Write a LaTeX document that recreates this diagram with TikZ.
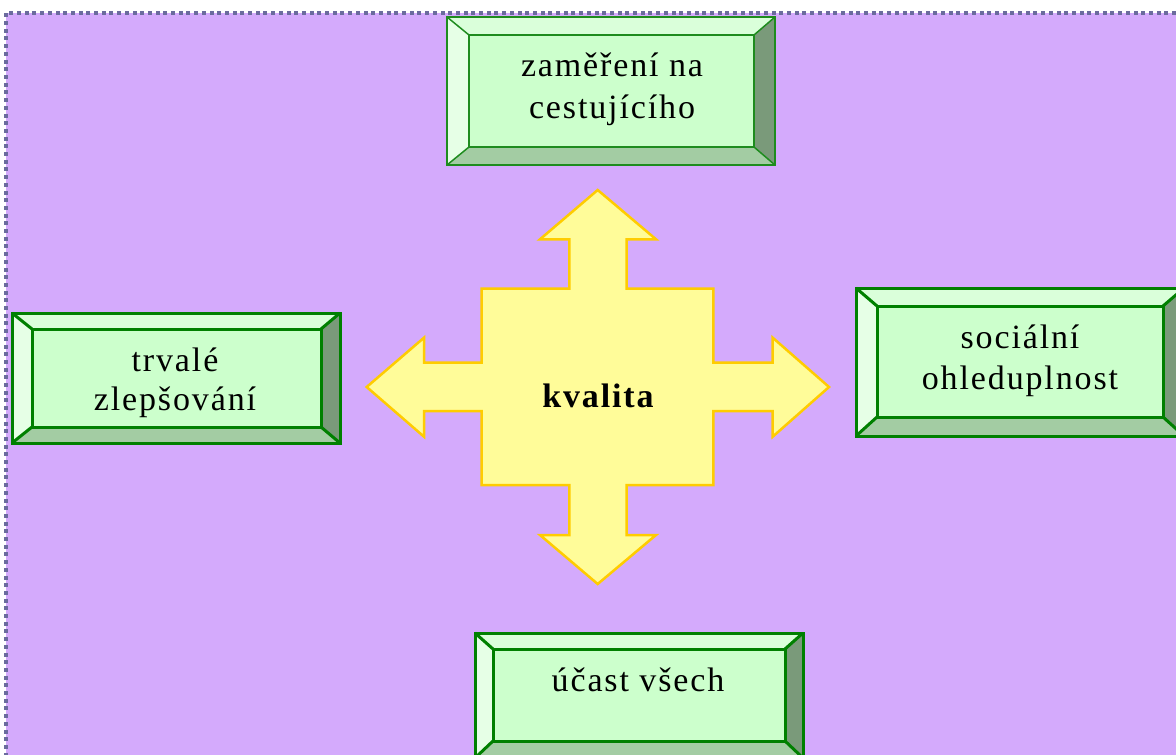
\documentclass[tikz,border=0pt]{standalone}
\usepackage{fontspec}
\setmainfont{Liberation Serif}[LetterSpace=5.5]
\definecolor{bgpurple}{RGB}{212,170,252}
\definecolor{dotcol}{RGB}{107,107,158}
\definecolor{face}{RGB}{204,255,204}
\definecolor{bevtop}{RGB}{218,255,218}
\definecolor{bevleft}{RGB}{230,255,230}
\definecolor{bevright}{RGB}{122,154,122}
\definecolor{bevbottom}{RGB}{163,204,163}
\definecolor{boxline}{RGB}{0,128,0}
\definecolor{boxlinethin}{RGB}{30,140,30}
\definecolor{arrowfill}{RGB}{255,252,153}
\definecolor{arrowline}{RGB}{255,204,0}
\newcommand{\bevbox}[9]{%
  % #1 x1, #2 y1, #3 x2, #4 y2 (outer); #5 a1, #6 b1, #7 a2, #8 b2 (inner); #9 style
  \fill[bevtop] (#1,#2) -- (#3,#2) -- (#7,#6) -- (#5,#6) -- cycle;
  \fill[bevleft] (#1,#2) -- (#5,#6) -- (#5,#8) -- (#1,#4) -- cycle;
  \fill[bevright] (#3,#2) -- (#3,#4) -- (#7,#8) -- (#7,#6) -- cycle;
  \fill[bevbottom] (#1,#4) -- (#3,#4) -- (#7,#8) -- (#5,#8) -- cycle;
  \fill[face] (#5,#6) rectangle (#7,#8);
  \draw[#9] (#1,#2) rectangle (#3,#4);
  \draw[#9] (#5,#6) rectangle (#7,#8);
  \draw[#9] (#1,#2) -- (#5,#6) (#3,#2) -- (#7,#6) (#3,#4) -- (#7,#8) (#1,#4) -- (#5,#8);
}
\begin{document}
\begin{tikzpicture}[x=1pt,y=-1pt,
  thickline/.style={draw=boxline,line width=3pt},
  thinline/.style={draw=boxlinethin,line width=1.5pt},
  boxtext/.style={align=center,inner sep=0pt,text=black},
  dotborder/.style={dotcol,line width=4pt,dash pattern=on 4pt off 3.7pt}]
\useasboundingbox (0,0) rectangle (1176,755);
\fill[bgpurple] (6,13) rectangle (1176,755);
\draw[dotborder] (1176,13) -- (6,13) -- (6,755);
% boxes
\bevbox{447}{17}{775}{165}{469}{35}{754}{147}{thinline}
\bevbox{12}{313}{340}{443}{32}{329}{321}{427}{thickline}
\bevbox{856}{288}{1184}{436}{877}{306}{1163}{417}{thickline}
\bevbox{475}{633}{803}{758}{493}{649}{785}{741}{thickline}
% central cross
\draw[fill=arrowfill,draw=arrowline,line width=2.5pt,line join=miter]
  (597.7,190) -- (656,239.3) -- (626.7,239.3) -- (626.7,288.7) -- (713.3,288.7)
  -- (713.3,362.7) -- (772.7,362.7) -- (772.7,337.7) -- (829,387) -- (772.7,436.7)
  -- (772.7,411) -- (713.3,411) -- (713.3,485) -- (626.7,485) -- (626.7,535)
  -- (656,535) -- (597.7,584) -- (540,535) -- (569.3,535) -- (569.3,485)
  -- (481.7,485) -- (481.7,411) -- (424,411) -- (424,436.7) -- (366.7,387)
  -- (424,337.7) -- (424,362.7) -- (481.7,362.7) -- (481.7,288.7) -- (569.3,288.7)
  -- (569.3,239.3) -- (540,239.3) -- cycle;
% texts
\node[boxtext,font=\fontsize{34}{42}\selectfont] (top) at (612,89.7) {zaměření na\\cestujícího};
\node[boxtext,font=\fontsize{34}{38.7}\selectfont] (left) at (175,382.5) {trvalé\\zlepšování};
\node[boxtext,font=\fontsize{34}{40.7}\selectfont] (right) at (1020,361) {sociální\\ohleduplnost};
\node[boxtext,font=\fontsize{34}{38}\selectfont,anchor=base] (bottom) at (638,691.7) {účast všech};
\node[boxtext,font=\fontsize{34}{38}\selectfont\bfseries,anchor=base] (kvalita) at (598,407) {kvalita};
\end{tikzpicture}
\end{document}
